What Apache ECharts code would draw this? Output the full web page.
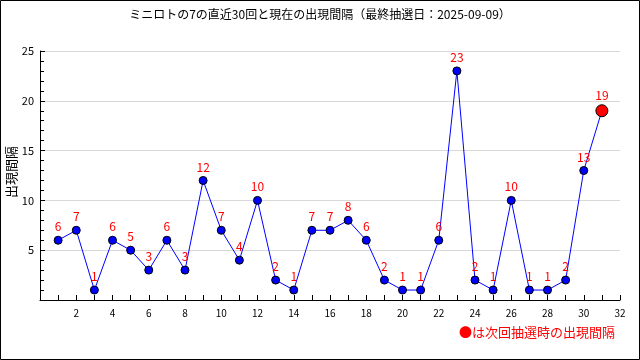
<!DOCTYPE html>
<html><head><meta charset="utf-8">
<script src="https://cdn.jsdelivr.net/npm/echarts@6/dist/echarts.min.js"></script>
<style>html,body{margin:0;padding:0;background:#fff}#c{width:640px;height:360px}</style>
</head><body><div id="c"></div>
<script>
const draws = [1,2,3,4,5,6,7,8,9,10,11,12,13,14,15,16,17,18,19,20,21,22,23,24,25,26,27,28,29,30,31];
const intervals = [6,7,1,6,5,3,6,3,12,7,4,10,2,1,7,7,8,6,2,1,1,6,23,2,1,10,1,1,2,13,19];
const titleText = 'ミニロトの7の直近30回と現在の出現間隔（最終抽選日：2025-09-09）';
const yName = '出現間隔';
const noteText = '●は次回抽選時の出現間隔';
const font = '"Noto Sans CJK JP", sans-serif';

const data = draws.map((d, i) => {
  const item = { value: [d, intervals[i]] };
  if (i === draws.length - 1) {
    item.symbolSize = 12;
    item.itemStyle = { color: '#ff0000', borderColor: '#000', borderWidth: 1 };
  }
  return item;
});

const chart = echarts.init(document.getElementById('c'));
chart.setOption({
  animation: false,
  backgroundColor: '#fff',
  title: {
    text: titleText, left: 'center', top: 3,
    textStyle: { fontFamily: font, fontSize: 12, fontWeight: 'normal', color: '#000' }
  },
  grid: { left: 40, right: 20, top: 51, bottom: 60, containLabel: false, outerBoundsMode: 'none' },
  xAxis: {
    type: 'value', min: 0, max: 32, interval: 2,
    axisLine: { show: true, lineStyle: { color: '#000', width: 1 } },
    axisTick: { show: true, inside: true, length: 5, lineStyle: { color: '#000' } },
    minorTick: { show: true, splitNumber: 2, length: 5, lineStyle: { color: '#000' } },
    splitLine: { show: false },
    axisLabel: { fontFamily: font, fontSize: 10, color: '#000', margin: 8,
      formatter: v => v === 0 ? '' : String(v) }
  },
  yAxis: {
    type: 'value', min: 0, max: 25, interval: 5,
    axisLine: { show: true, lineStyle: { color: '#000', width: 1 } },
    axisTick: { show: true, inside: true, length: 5, lineStyle: { color: '#000' } },
    minorTick: { show: true, splitNumber: 5, length: 4, lineStyle: { color: '#000' } },
    splitLine: { show: true, lineStyle: { color: '#d8d8d8', width: 1 } },
    axisLabel: { fontFamily: font, fontSize: 11, color: '#000', margin: 6,
      formatter: v => v === 0 ? '' : String(v) }
  },
  series: [{
    type: 'line',
    data: data,
    symbol: 'circle', symbolSize: 8,
    lineStyle: { color: '#0000ff', width: 1 },
    itemStyle: { color: '#0000ff', borderColor: '#000', borderWidth: 1 },
    label: { show: true, position: 'top', distance: 3, color: '#ff0000',
      fontFamily: font, fontSize: 12, formatter: p => p.value[1] }
  }],
  graphic: [
    { type: 'rect', shape: { x: 0.5, y: 0.5, width: 639, height: 359 },
      style: { fill: 'none', stroke: '#000', lineWidth: 1 }, silent: true },
    { type: 'text', x: 11, y: 172, rotation: Math.PI / 2,
      style: { text: yName, fill: '#000', font: '13px ' + font, align: 'center', verticalAlign: 'middle' } },
    { type: 'text', right: 25, top: 326,
      style: { text: noteText, fill: '#ff0000', font: '13px ' + font } }
  ]
});
</script></body></html>
